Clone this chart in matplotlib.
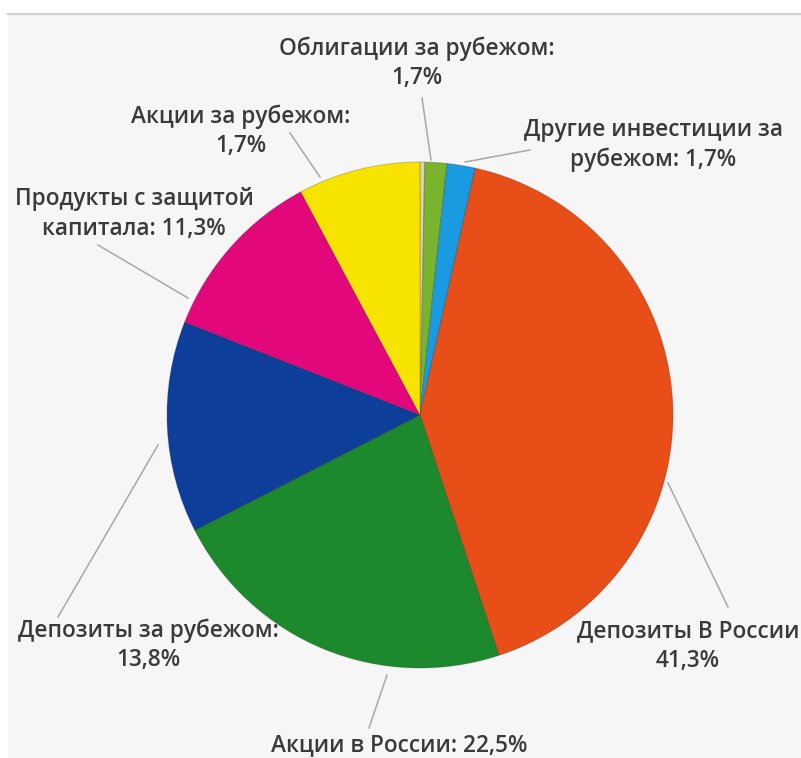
import matplotlib
matplotlib.use('Agg')
import matplotlib.pyplot as plt
from matplotlib.patches import Rectangle

W, H = 801, 758

# slices clockwise from 12 o'clock (sizes, %)
slice_names = ['(без подписи)', 'Облигации за рубежом', 'Другие инвестиции за рубежом',
               'Депозиты В России', 'Акции в России', 'Депозиты за рубежом',
               'Продукты с защитой капитала', 'Акции за рубежом']
sizes = [0.3, 1.4, 1.8, 41.4, 22.5, 13.5, 11.2, 7.8]
colors = ['#dcd6b0', '#7ab32e', '#1a9ae0', '#e84e17', '#1c8a2c', '#0d3f9a', '#e2087c', '#f6e400']

# label texts as printed on the chart
label_texts = ['Облигации за рубежом:\n1,7%',
               'Другие инвестиции за\nрубежом: 1,7%',
               'Акции за рубежом:\n1,7%',
               'Продукты с защитой\nкапитала: 11,3%',
               'Депозиты за рубежом:\n13,8%',
               'Депозиты В России\n41,3%',
               'Акции в России: 22,5%']
# text centres and leader lines, in picture pixels (y down)
label_pos = [(417, 63), (653, 145), (241, 131), (134, 214), (148, 645), (688, 646), (399, 745)]
leaders = [((422, 98), (431, 160)), ((465, 162), (530, 150)), ((290, 133), (320, 177)),
           ((98, 245), (188, 298)), ((58, 617), (158, 445)), ((668, 483), (728, 607)),
           ((387, 675), (369, 728))]

plt.rcParams['font.family'] = ['Open Sans', 'DejaVu Sans']

fig = plt.figure(figsize=(W / 100, H / 100), dpi=100, facecolor='white')
ax = fig.add_axes([0, 0, 1, 1])

# light grey panel with a rule on top
ax.add_patch(Rectangle((8, 0), W - 8, H - 15, facecolor='#f6f6f6', edgecolor='none', zorder=0))
ax.plot([8, W], [H - 14, H - 14], color='#d2d2d2', linewidth=1.6, zorder=1)

ax.pie(sizes, colors=colors, startangle=90, counterclock=False,
       center=(420, H - 415), radius=253, frame=True,
       wedgeprops=dict(edgecolor=(0, 0, 0, 0.18), linewidth=0.8))

for (p0, p1) in leaders:
    ax.plot([p0[0], p1[0]], [H - p0[1], H - p1[1]], color='#a8a8a8', linewidth=1.1, zorder=3)

for txt, (x, y) in zip(label_texts, label_pos):
    ax.text(x, H - y, txt, ha='center', va='center', fontsize=16.3, fontweight='semibold',
            color='#3a3a3a', linespacing=1.28, zorder=4)

ax.set_xlim(0, W)
ax.set_ylim(0, H)
ax.set_aspect('auto')
ax.axis('off')

fig.savefig('out.png', dpi=100, facecolor='white')
